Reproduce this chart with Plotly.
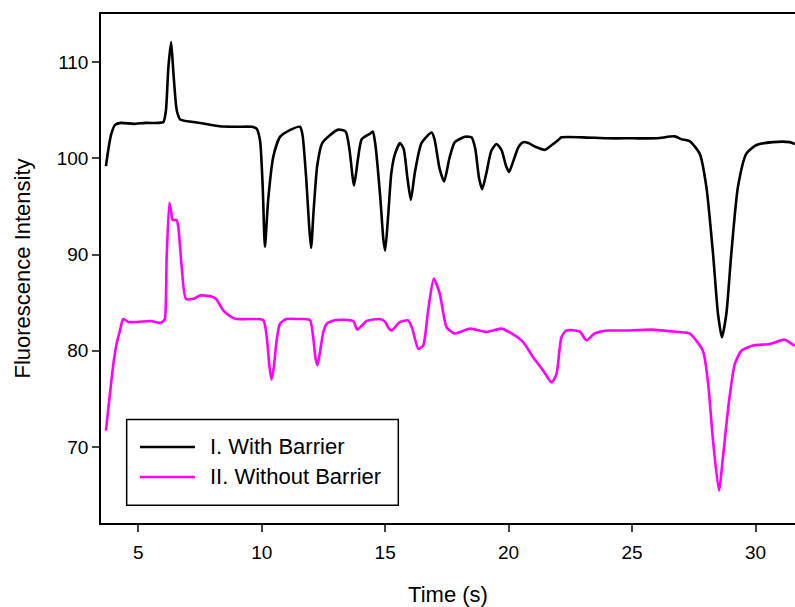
import plotly.graph_objects as go

# ---- data ----
t_with = [3.69, 3.78, 3.90, 4.06, 4.3, 4.8, 5.3, 5.8, 6.02, 6.12, 6.22, 6.33, 6.42, 6.56, 6.7,
          7.5, 8.3, 9.0, 9.6, 9.79, 9.93, 10.04, 10.13, 10.26, 10.47, 10.74,
          11.14, 11.55, 11.65, 11.8, 11.92, 12.0, 12.1, 12.25, 12.45, 12.75, 13.1,
          13.4, 13.55, 13.74, 13.9, 14.05, 14.4, 14.5, 14.6, 14.8, 14.93, 15.0, 15.12, 15.25,
          15.39, 15.6, 15.75, 15.9, 16.04, 16.2, 16.47, 16.88, 17.0, 17.2, 17.39, 17.6, 17.82,
          18.23, 18.5, 18.65, 18.8, 18.93, 19.1, 19.3, 19.51, 19.71, 19.9, 20.02, 20.2, 20.4,
          20.59, 20.8, 21.1, 21.47, 21.75, 22.0, 22.14, 23.0, 24.0, 25.0, 26.0, 26.73, 27.0,
          27.33, 27.74, 28.01, 28.28, 28.48, 28.64, 28.82, 29.02, 29.29, 29.63, 30.04, 30.7,
          31.38, 31.6]
v_with = [99.2, 100.8, 102.5, 103.5, 103.7, 103.6, 103.7, 103.7, 103.8, 105.0, 109.5, 112.1,
          109.0, 105.0, 104.06, 103.7, 103.35, 103.3, 103.3, 103.1, 101.9, 97.05, 90.8,
          95.65, 100.2, 102.25, 102.95, 103.3, 102.5, 98.0, 93.0, 90.7, 94.5,
          99.3, 101.6, 102.4, 103.0, 102.8, 101.0, 97.2, 100.0, 102.0, 102.6, 102.8,
          101.5, 96.0, 91.5, 90.4, 94.0, 98.5, 100.4, 101.6, 101.0, 98.0, 95.7, 98.5, 101.6,
          102.7, 102.0, 99.0, 97.6, 100.0, 101.7, 102.25, 102.2, 101.0, 98.0, 96.8, 98.5, 100.8,
          101.5, 100.9, 99.2, 98.6, 99.8, 101.2, 101.7, 101.6, 101.2, 100.9, 101.4, 101.9, 102.2,
          102.2, 102.1, 102.1, 102.1, 102.3, 102.0, 101.8, 100.5, 97.05, 90.1, 83.85, 81.4,
          83.85, 90.1, 97.05, 100.5, 101.4, 101.7, 101.7, 101.5]

t_without = [3.69, 3.85, 4.0, 4.12, 4.25, 4.39, 4.6, 5.0, 5.5, 5.9, 6.02, 6.08, 6.15, 6.26, 6.33,
             6.39, 6.55, 6.62, 6.76, 6.93, 7.23, 7.5, 7.97, 8.15, 8.44, 8.78, 8.98, 9.5, 10.06,
             10.2, 10.32, 10.4, 10.5, 10.6, 10.74, 11.0, 11.5, 11.95, 12.08, 12.18, 12.26, 12.38,
             12.5, 12.63, 13.0, 13.7, 13.87, 14.05, 14.25, 14.79, 15.0, 15.15, 15.26, 15.45, 15.6,
             15.93, 16.1, 16.34, 16.54, 16.74, 16.97, 17.21, 17.49, 17.82, 18.43, 19.1, 19.71,
             20.12, 20.59, 21.0, 21.4, 21.74, 21.94, 22.14, 22.34, 22.88, 23.15, 23.49, 24.03,
             24.66, 25.79, 26.86, 27.33, 27.87, 28.08, 28.28, 28.52, 28.68, 28.93, 29.16, 29.43,
             29.9, 30.57, 31.18, 31.5, 31.6]
v_without = [71.7, 75.5, 78.8, 80.7, 82.0, 83.3, 83.0, 83.0, 83.1, 82.9, 83.1, 83.3, 89.75, 95.4,
             94.5, 93.6, 93.6, 92.9, 88.7, 85.4, 85.4, 85.75, 85.65, 85.4, 84.2, 83.5, 83.3, 83.3,
             83.2, 81.5, 78.2, 77.0, 78.5, 81.0, 82.8, 83.3, 83.3, 83.2, 81.5, 79.2, 78.5, 80.2,
             82.0, 82.8, 83.2, 83.1, 82.2, 82.6, 83.1, 83.3, 83.0, 82.3, 82.1, 82.6, 83.0, 83.15,
             82.3, 80.2, 80.55, 84.2, 87.5, 85.95, 82.45, 81.8, 82.3, 81.95, 82.3, 81.8, 80.9,
             79.3, 77.95, 76.7, 77.6, 81.4, 82.1, 82.0, 81.1, 81.8, 82.1, 82.1, 82.2, 81.95, 81.8,
             80.0, 76.6, 70.65, 65.45, 68.9, 74.8, 78.6, 80.0, 80.55, 80.7, 81.15, 80.65, 80.5]

series_names = ["I. With Barrier", "II. Without Barrier"]
series_colors = ["#000000", "#ff00ff"]
x_ticks = [5, 10, 15, 20, 25, 30]
y_ticks = [70, 80, 90, 100, 110]

FONT = "Liberation Sans, Arial, sans-serif"

fig = go.Figure()
fig.add_trace(go.Scatter(x=t_with, y=v_with, mode="lines", name=series_names[0],
                         line=dict(color=series_colors[0], width=2.6, shape="spline", smoothing=0.6),
                         showlegend=False))
fig.add_trace(go.Scatter(x=t_without, y=v_without, mode="lines", name=series_names[1],
                         line=dict(color=series_colors[1], width=2.6, shape="spline", smoothing=0.6),
                         showlegend=False))

# custom legend box (paper coordinates)
shapes = [dict(type="rect", xref="paper", yref="paper", x0=0.037, x1=0.4284, y0=0.0348, y1=0.2033,
               line=dict(color="black", width=1.5), fillcolor="white", layer="above")]
annotations = []
for i, (nm, col) in enumerate(zip(series_names, series_colors)):
    yy = 0.1494 - i * 0.059
    shapes.append(dict(type="line", xref="paper", yref="paper", x0=0.0562, x1=0.1354, y0=yy, y1=yy,
                       line=dict(color=col, width=2.5), layer="above"))
    annotations.append(dict(text=nm, xref="paper", yref="paper", x=0.1542, y=yy, xanchor="left",
                            yanchor="middle", showarrow=False,
                            font=dict(family=FONT, size=22, color="black")))

fig.update_layout(
    width=795, height=607,
    margin=dict(l=101, r=0, t=14, b=84),
    paper_bgcolor="white", plot_bgcolor="white",
    font=dict(family=FONT, size=19, color="black"),
    shapes=shapes, annotations=annotations,
    showlegend=False,
)
fig.update_xaxes(range=[3.49, 31.6], tickvals=x_ticks, ticks="outside", ticklen=7, tickwidth=1.5,
                 showline=True, linewidth=1.5, linecolor="black", mirror=True, showgrid=False,
                 zeroline=False, tickfont=dict(size=19), ticklabelstandoff=4,
                 title=dict(text="Time (s)", font=dict(size=22), standoff=26))
fig.update_yaxes(range=[62.08, 115.03], tickvals=y_ticks, ticks="outside", ticklen=7, tickwidth=1.5,
                 showline=True, linewidth=1.5, linecolor="black", mirror=False, showgrid=False,
                 zeroline=False, tickfont=dict(size=19),
                 title=dict(text="Fluorescence Intensity", font=dict(size=22), standoff=20))

fig.write_html("out.html")
